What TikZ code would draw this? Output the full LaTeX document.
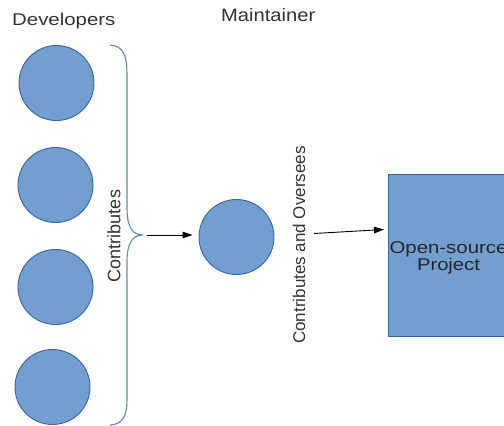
\documentclass[tikz,border=0pt]{standalone}
\usepackage{fontspec}
\setmainfont{Liberation Sans}
\usetikzlibrary{arrows.meta}
\definecolor{cfill}{HTML}{729FCF}
\definecolor{cline}{HTML}{3465A4}
\definecolor{bline}{HTML}{5A88C4}
\begin{document}
\begin{tikzpicture}[x=1pt,y=1pt,
  person/.style={circle,draw=cline,fill=cfill,line width=0.9pt,minimum size=75pt,inner sep=0pt},
  project/.style={rectangle,draw=cline,fill=cfill,line width=0.9pt,minimum width=121pt,minimum height=162pt,inner sep=0pt},
  lbl/.style={inner sep=0pt,font=\fontsize{17}{17}\selectfont,text=black!80},
  brace/.style={draw=bline,line width=1.1pt},
  arr/.style={draw=black,line width=0.9pt,-{Triangle[length=10pt,width=6.5pt]}}]
\useasboundingbox (0,0) rectangle (504,-426);
\clip (0,0) rectangle (504,-426);
% labels
\node[lbl,anchor=base west] (ldev) at (12,-25) {\scalebox{1.2}[1]{Developers}};
\node[lbl,anchor=base west,font=\fontsize{18}{18}\selectfont] (lmain) at (221,-21.7) {\scalebox{1.12}[1]{Maintainer}};
% developers
\node[person] (d1) at (56.5,-83) {};
\node[person] (d2) at (55.5,-185) {};
\node[person] (d3) at (55.5,-287) {};
\node[person] (d4) at (52.5,-387) {};
% brace
\coordinate (tip) at (143,-235);
\draw[brace] (110,-45) .. controls (124,-46) and (127,-56) .. (127,-76) -- (127,-208)
  .. controls (127,-228) and (133,-235) .. (tip)
  .. controls (133,-235) and (127,-242) .. (127,-262) -- (127,-398)
  .. controls (127,-418) and (122,-424) .. (110,-425);
\node[lbl,rotate=90,font=\fontsize{18}{18}\selectfont] (lcon) at (114,-236) {Contributes};
% maintainer
\node[person] (m) at (236.5,-237) {};
\draw[arr,shorten <=4pt,shorten >=6pt] (tip) -- (tip -| m.west);
\node[lbl,rotate=90] (lco) at (299,-245) {Contributes and Oversees};
% project
\node[project] (p) at (448.5,-255) {};
\node[lbl,anchor=base,text=black!85] (pt1) at (448.5,-253) {\scalebox{1.2}[1]{Open-source}};
\node[lbl,anchor=base,text=black!85] (pt2) at (448.5,-270) {\scalebox{1.19}[1]{Project}};
\coordinate (a2s) at (314,-233.5);
\coordinate (a2e) at (384,-229.5);
\draw[arr] (a2s) -- (a2e);
\end{tikzpicture}
\end{document}
